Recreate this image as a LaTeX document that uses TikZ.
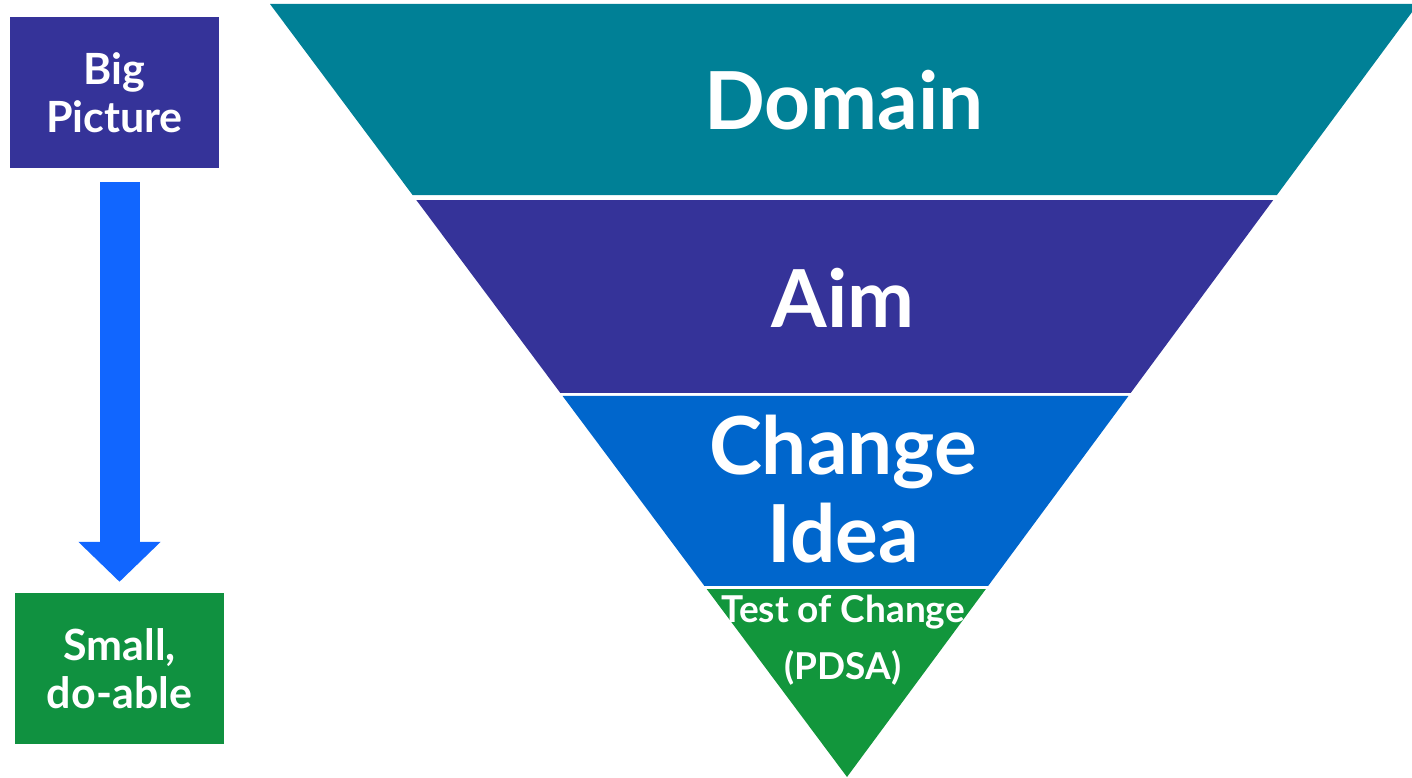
\documentclass[tikz,border=0pt]{standalone}
\usepackage{fontspec}
\setmainfont{Lato}
\usetikzlibrary{arrows.meta,calc}

\definecolor{domainteal}{RGB}{0,128,150}
\definecolor{aimblue}{RGB}{53,51,153}
\definecolor{changeblue}{RGB}{0,102,204}
\definecolor{testgreen}{RGB}{18,150,60}
\definecolor{smallgreen}{RGB}{16,145,64}
\definecolor{arrowblue}{RGB}{17,102,255}

\tikzset{
  sidebox/.style={minimum width=209pt, minimum height=151pt, inner sep=0pt, text=white, align=center, font=\fontsize{43}{48}\selectfont\bfseries},
  bandtext/.style={text=white, align=center, inner sep=0pt, font=\fontsize{80}{88}\selectfont\bfseries},
  smalltext/.style={text=white, align=center, inner sep=0pt, font=\fontsize{37}{57}\selectfont\bfseries},
}

\begin{document}
\begin{tikzpicture}[x=1pt,y=-1pt]
    \clip (0,0) rectangle (1412,778);
    \coordinate (tl) at (270,4);
    \coordinate (tr) at (1418,4);
    \coordinate (tip) at (847,777);

    % funnel bands
    \fill[domainteal] (tl) -- (tr) -- ($(tr)!0.2471!(tip)$) -- ($(tl)!0.2471!(tip)$) -- cycle;
    \fill[aimblue] ($(tl)!0.2536!(tip)$) -- ($(tr)!0.2536!(tip)$) -- ($(tr)!0.5032!(tip)$) -- ($(tl)!0.5032!(tip)$) -- cycle;
    \fill[changeblue] ($(tl)!0.5071!(tip)$) -- ($(tr)!0.5071!(tip)$) -- ($(tr)!0.7529!(tip)$) -- ($(tl)!0.7529!(tip)$) -- cycle;
    \fill[testgreen] ($(tl)!0.7568!(tip)$) -- ($(tr)!0.7568!(tip)$) -- (tip) -- cycle;

    \node[bandtext] (domain) at (844,100) {Domain};
    \node[bandtext] (aim) at (843,298) {Aim};
    \node[bandtext] (change) at (843,489) {Change\\Idea};
    \node[smalltext] (test) at (843,640) {Test of Change\\(PDSA)};

    \node[sidebox, fill=aimblue] (big) at (114.5,92.5) {Big\\Picture};
    \node[sidebox, fill=smallgreen] (small) at (119.5,668.5) {Small,\\do-able};

    \draw[arrowblue, line width=40pt, -{Triangle[width=80pt,length=40pt]}, shorten <=14pt, shorten >=11pt] (small.north |- big.south) -- (small.north);
\end{tikzpicture}
\end{document}
